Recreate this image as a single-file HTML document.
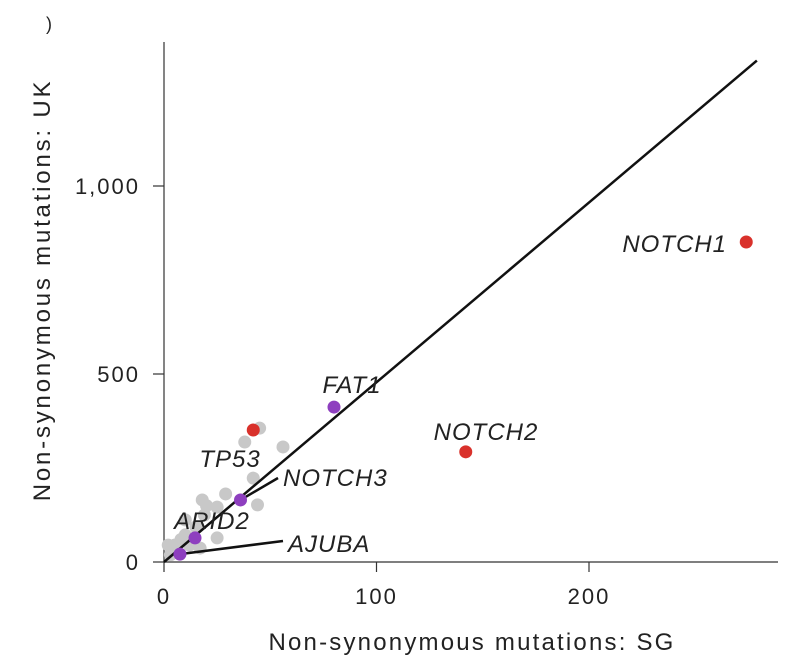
<!DOCTYPE html>
<html><head><meta charset="utf-8"><style>
body{margin:0;background:#fff;}
svg text{font-family:"Liberation Sans",sans-serif;fill:#222;}
</style></head><body>
<svg width="796" height="662">
<text x="46" y="30" font-size="18">)</text>
<g id="axes"></g>
<g id="marks"></g>
<text x="472" y="650" font-size="24" letter-spacing="2.2" text-anchor="middle">Non-synonymous mutations: SG</text>
<text transform="translate(50,290) rotate(-90)" font-size="24" letter-spacing="2.8" text-anchor="middle">Non-synonymous mutations: UK</text>
</svg>
<script>
const xTicks=[0,100,200];
const xTickLabels=["0","100","200"];
const yTicks=[0,500,1000];
const yTickLabels=["0","500","1,000"];
const greyX=[45,38,56,42,29,18,25,44,19,10,15,25,2,5,10,17,3,12,20,8];
const greyY=[356,319,306,223,181,165,146,152,125,112,93,64,45,45,72,37,19,45,150,60];
const labGenes=["NOTCH1","NOTCH2","TP53","FAT1","NOTCH3","ARID2","AJUBA"];
const labX=[274,142,42,80,36,14.6,7.5];
const labY=[851,293,351,412,165,64,21];
const labColor=["#d9312b","#d9312b","#d9312b","#8e3fbf","#8e3fbf","#8e3fbf","#8e3fbf"];
const fitSlope=4.78;
const fitMaxX=279;
const X=v=>164+v*2.125, Y=v=>562-v*0.376;
const NS="http://www.w3.org/2000/svg";
const axes=document.getElementById('axes'), marks=document.getElementById('marks');
function mk(tag,at,parent){const e=document.createElementNS(NS,tag);for(const k in at)e.setAttribute(k,at[k]);parent.appendChild(e);return e;}
let a=mk('line',{x1:164,y1:42,x2:164,y2:562,stroke:'#333','stroke-width':1.2},axes);


a=mk('line',{x1:164,y1:562,x2:778,y2:562,stroke:'#333','stroke-width':1.2},axes);


xTicks.forEach((t,i)=>{
 const l=mk('line',{x1:X(t),y1:562,x2:X(t),y2:572,stroke:'#333','stroke-width':1.2},axes);
 
 
 const tx=mk('text',{x:X(t),y:604,'font-size':22,'letter-spacing':2,'text-anchor':'middle'},axes);tx.textContent=xTickLabels[i];
 
 
});
yTicks.forEach((t,i)=>{
 const l=mk('line',{x1:153,y1:Y(t),x2:164,y2:Y(t),stroke:'#333','stroke-width':1.2},axes);
 
 
 const tx=mk('text',{x:140,y:Y(t)+8,'font-size':22,'letter-spacing':2,'text-anchor':'end'},axes);tx.textContent=yTickLabels[i];
 
 
});
greyX.forEach((v,i)=>{
 const c=mk('circle',{cx:X(v),cy:Y(greyY[i]),r:6.5,fill:'#c8c8c8'},marks);
 
 
});
const fl=mk('line',{x1:X(0),y1:Y(0),x2:X(fitMaxX),y2:Y(fitMaxX*fitSlope),stroke:'#111','stroke-width':2.5},marks);


const l1=mk('line',{x1:X(labX[4]),y1:Y(labY[4]),x2:278,y2:478,stroke:'#111','stroke-width':2.5},marks);


const l2=mk('line',{x1:X(labX[6]),y1:Y(labY[6]),x2:283,y2:541,stroke:'#111','stroke-width':2.5},marks);


const labPos=[[727,252,'end'],[486,440,'middle'],[230,467,'middle'],[352,393,'middle'],[283,486,'start'],[212,529,'middle'],[288,552,'start']];
labGenes.forEach((g,i)=>{
 const c=mk('circle',{cx:X(labX[i]),cy:Y(labY[i]),r:6.5,fill:labColor[i]},marks);
 
 
 const t=mk('text',{x:labPos[i][0],y:labPos[i][1],'font-size':24,'letter-spacing':1,'font-style':'italic','text-anchor':labPos[i][2]},marks);
 t.textContent=g;
 
 
});
</script>
</body></html>
